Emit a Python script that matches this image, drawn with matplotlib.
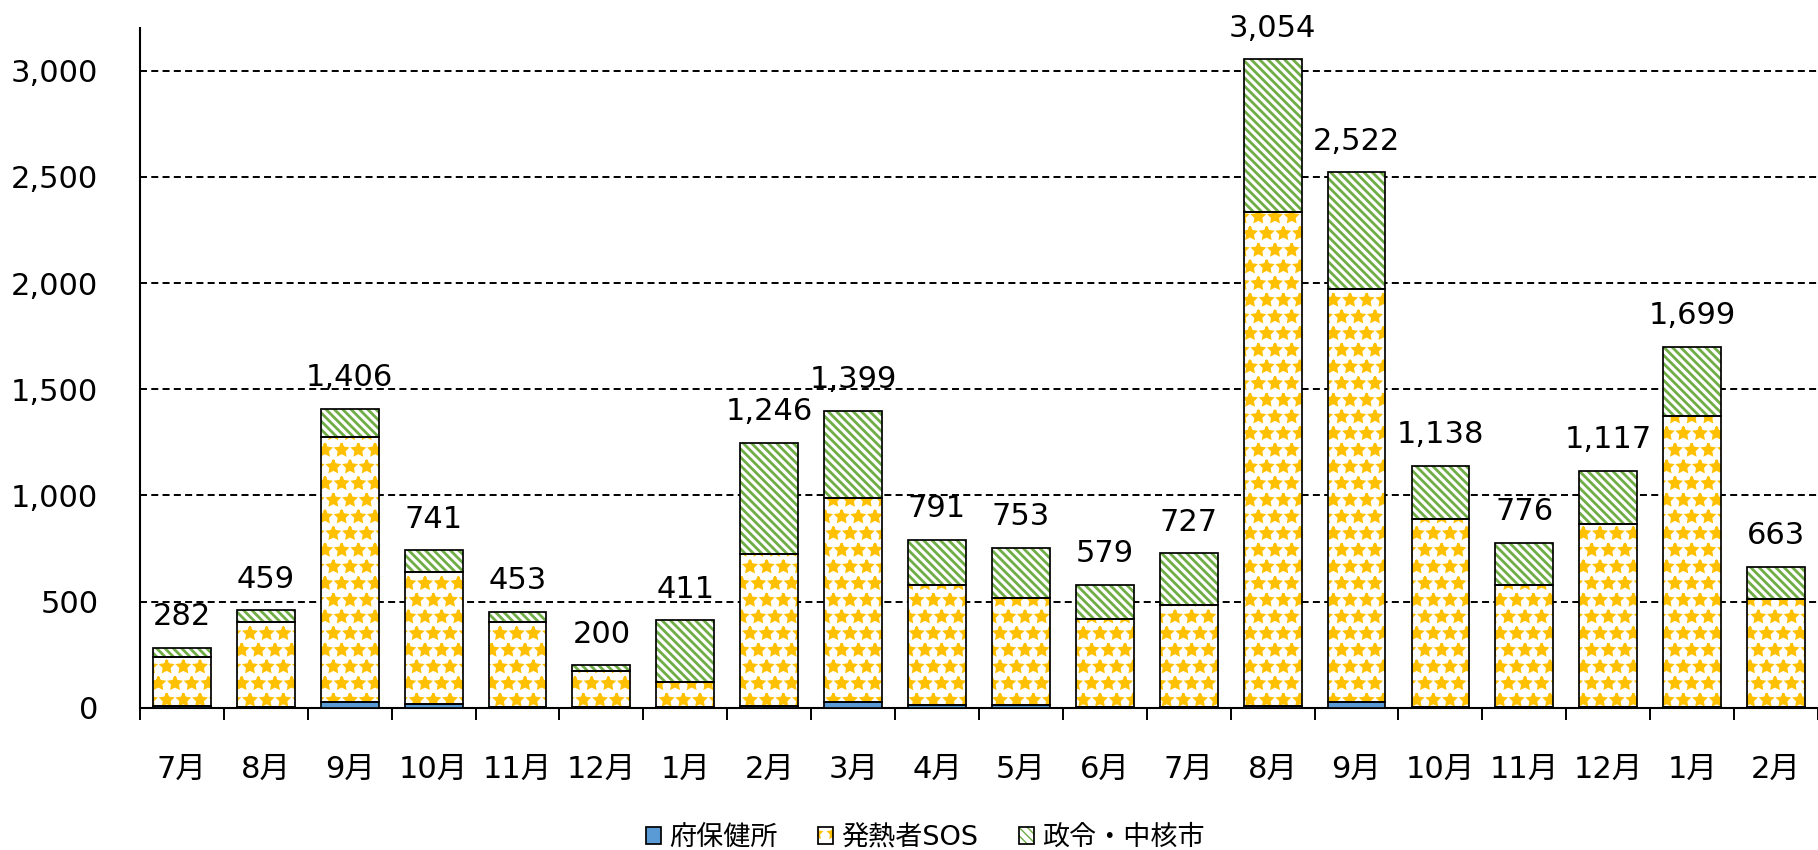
import matplotlib
matplotlib.use("Agg")
import matplotlib.pyplot as plt
from matplotlib.ticker import FuncFormatter, FixedLocator
import numpy as np

# データ（月別件数）
months = ["7月", "8月", "9月", "10月", "11月", "12月", "1月", "2月", "3月", "4月",
          "5月", "6月", "7月", "8月", "9月", "10月", "11月", "12月", "1月", "2月"]
fu_hokenjo = [8, 3, 25, 18, 5, 3, 3, 10, 25, 12, 12, 4, 4, 8, 25, 4, 3, 3, 3, 3]
hatsunetsu_sos = [229, 401, 1251, 620, 400, 170, 117, 714, 961, 566,
                  506, 414, 480, 2328, 1948, 883, 577, 864, 1369, 509]
seirei_chukaku = [45, 55, 130, 103, 48, 27, 291, 522, 413, 213,
                  235, 161, 243, 718, 549, 251, 196, 250, 327, 151]
series_names = ["府保健所", "発熱者SOS", "政令・中核市"]

plt.rcParams["font.family"] = ["DejaVu Sans", "Noto Sans CJK JP"]

BLUE = "#5B9BD5"
ORANGE = "#FFC000"
GREEN = "#70AD47"
FS = 22
EDGE_LW = 1.25

fig = plt.figure(figsize=(18.18, 8.5), dpi=100)
ax = fig.add_axes([0.0770, 0.1674, 0.9230, 0.7994])

x = np.arange(len(months))
w = 0.69
a = np.array(fu_hokenjo)
b = np.array(hatsunetsu_sos)
c = np.array(seirei_chukaku)
totals = a + b + c

# 府保健所（塗りつぶし）
h1 = ax.bar(x, a, w, color=BLUE, linewidth=0, zorder=3)
o1 = ax.bar(x, a, w, fill=False, edgecolor="black", linewidth=EDGE_LW, zorder=4)

# 発熱者SOS（点模様）
with plt.rc_context({"hatch.linewidth": 1.8}):
    h2 = ax.bar(x, b, w, bottom=a, facecolor="white", edgecolor=ORANGE,
                linewidth=0, hatch="*", zorder=3)
o2 = ax.bar(x, b, w, bottom=a, fill=False, edgecolor="black", linewidth=EDGE_LW, zorder=4)

# 政令・中核市（斜線）
with plt.rc_context({"hatch.linewidth": 2.0}):
    h3 = ax.bar(x, c, w, bottom=a + b, facecolor="white", edgecolor=GREEN,
                linewidth=0, hatch="\\\\\\\\", zorder=3)
o3 = ax.bar(x, c, w, bottom=a + b, fill=False, edgecolor="black", linewidth=EDGE_LW, zorder=4)

# 合計ラベル
for xi, t in zip(x, totals):
    ax.annotate(f"{t:,}", xy=(xi, t), xytext=(0, 12), textcoords="offset points",
                ha="center", va="bottom", fontsize=FS)

# 軸設定
ax.set_xlim(-0.5, len(months) - 0.5)
ax.set_ylim(0, 3200)
ax.set_yticks([0, 500, 1000, 1500, 2000, 2500, 3000])
ax.yaxis.set_major_formatter(FuncFormatter(lambda v, p: f"{int(v):,}"))
ax.tick_params(axis="y", length=0, pad=30, labelsize=FS)

ax.set_xticks(x)
ax.set_xticklabels(months)
ax.tick_params(axis="x", which="major", length=0, pad=34, labelsize=FS)
ax.xaxis.set_minor_locator(FixedLocator(np.arange(-0.5, len(months), 1.0)))
ax.tick_params(axis="x", which="minor", length=8.5, width=1.4, direction="out")

for s in ["top", "right"]:
    ax.spines[s].set_visible(False)
ax.spines["left"].set_linewidth(1.5)
ax.spines["bottom"].set_linewidth(1.5)

# 破線グリッド（0は除く）
for gy in [500, 1000, 1500, 2000, 2500, 3000]:
    ax.axhline(gy, color="black", linewidth=1.4, linestyle=(0, (3.6, 2.2)), zorder=1)

fig.legend([(h1, o1), (h2, o2), (h3, o3)], series_names, loc="center",
           bbox_to_anchor=(0.509, 1 - 838 / 850), ncol=3, frameon=False,
           fontsize=19.5, handlelength=0.55, handleheight=0.55, handletextpad=0.3,
           columnspacing=1.5)

fig.savefig("out.png", dpi=100, facecolor="white")
